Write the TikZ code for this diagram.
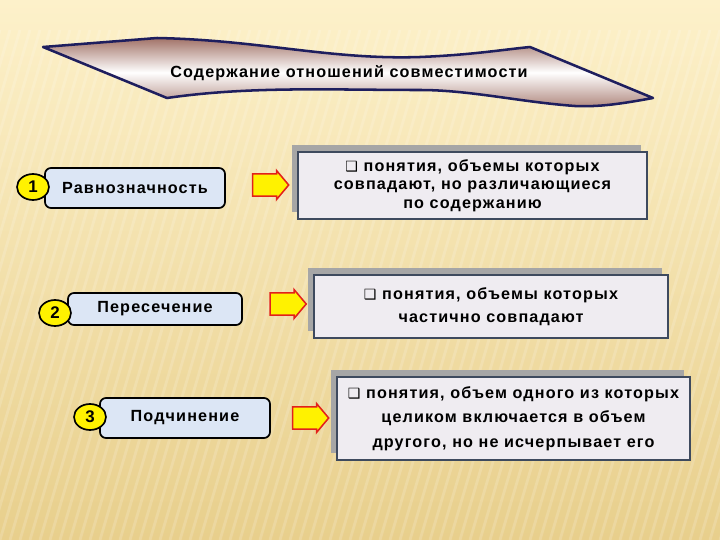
\documentclass[tikz,border=0pt]{standalone}
\usepackage{fontspec}
\setmainfont{Liberation Sans}[LetterSpace=7]
\newfontfamily\bulletfont{DejaVu Sans}
\usetikzlibrary{shapes.geometric,shapes.arrows,shadows}

\definecolor{bgtop}{HTML}{FDF1CA}
\definecolor{bgbottom}{HTML}{E8CF8C}
\definecolor{ribbonedge}{HTML}{1E1E5E}
\definecolor{ribbonrose}{HTML}{A27368}
\definecolor{termfill}{HTML}{DCE6F5}
\definecolor{notefill}{HTML}{EFECF1}
\definecolor{noteedge}{HTML}{3E4A5E}
\definecolor{arrowred}{HTML}{E3201B}

\newcommand{\bul}{{\bulletfont\fontsize{10}{10}\selectfont ❑}\ }

\tikzset{
  stripe/.style={white, opacity=0.16, line width=0.7mm},
  ribbon/.style={draw=ribbonedge, line width=1.8pt, line join=round, top color=ribbonrose, bottom color=ribbonrose!85, middle color=white},
  termbox/.style={draw=black, line width=1.2pt, fill=termfill, rounded corners=1.5mm, inner sep=0pt, font=\bfseries\fontsize{11.5}{13}\selectfont},
  numball/.style={ellipse, draw=black, line width=1.2pt, fill=yellow, minimum width=8mm, minimum height=6.5mm, inner sep=0pt, font=\bfseries\fontsize{12}{14}\selectfont},
  notebox/.style={draw=noteedge, line width=1.3pt, fill=notefill, align=center, inner sep=0pt, general shadow={shadow xshift=-1.5mm, shadow yshift=1.75mm, fill=gray!70}},
  pointer/.style={single arrow, draw=arrowred, line width=1.1pt, fill=yellow, inner xsep=0pt, inner ysep=2.6mm, minimum width=0pt, minimum height=9mm, single arrow head extend=0.8mm, single arrow tip angle=100},
}

\begin{document}
\begin{tikzpicture}[x=0.25mm, y=-0.25mm]
    \useasboundingbox (0,0) rectangle (720,540);

    % Draw the background.
    \shade[top color=bgtop, bottom color=bgbottom] (0,0) rectangle (720,540);
    \begin{scope}
      \clip (0,0) rectangle (720,540);
      \foreach \sx in {0,10,...,880}
        \draw[stripe] (\sx,30) -- ++(-150,510);
    \end{scope}

    % Draw the ribbon with the title.
    \draw[ribbon] (43,47) -- (157,38)
      .. controls (260,40) and (330,60) .. (420,57)
      .. controls (470,55) and (500,50) .. (530,47)
      -- (653,98)
      .. controls (620,104) and (600,107) .. (575,106)
      .. controls (520,102) and (470,90) .. (420,90)
      .. controls (330,90) and (250,86) .. (167,98) -- cycle;
    \node[font=\bfseries\fontsize{11.5}{13}\selectfont] (title) at (349,73) {Содержание отношений совместимости};

    % Draw the terms.
    \node[termbox, minimum width=45mm, minimum height=10mm] (term1) at (135,188) {Равнозначность};
    \node[termbox, minimum width=43.5mm, minimum height=8mm] (term2) at (155,309) {Пересечение};
    \node[termbox, minimum width=42.5mm, minimum height=10mm] (term3) at (185,418) {Подчинение};

    % Draw the numbers.
    \node[numball] (num1) at (33,187) {1};
    \node[numball] (num2) at (55,313) {2};
    \node[numball] (num3) at (90,417) {3};

    % Draw the arrows.
    \node[pointer] (arr1) at (266,185) {};
    \node[pointer] (arr2) at (283.5,304) {};
    \node[pointer] (arr3) at (306,418) {};

    % Draw the notes.
    \node[notebox, minimum width=87.25mm, minimum height=16.75mm,
      font=\bfseries\fontsize{11.5}{13.2}\selectfont] (note1) at (472.5,185.5)
      {\bul понятия, объемы которых\\совпадают, но различающиеся\\по содержанию};
    \node[notebox, minimum width=88.5mm, minimum height=15.75mm,
      font=\bfseries\fontsize{11.5}{16.4}\selectfont] (note2) at (491,306.5)
      {\bul понятия, объемы которых\\частично совпадают};
    \node[notebox, minimum width=88.25mm, minimum height=20.75mm,
      font=\bfseries\fontsize{11.5}{17.5}\selectfont] (note3) at (513.5,418.5)
      {\bul понятия, объем одного из которых\\целиком включается в объем\\другого, но не исчерпывает его};
\end{tikzpicture}
\end{document}
